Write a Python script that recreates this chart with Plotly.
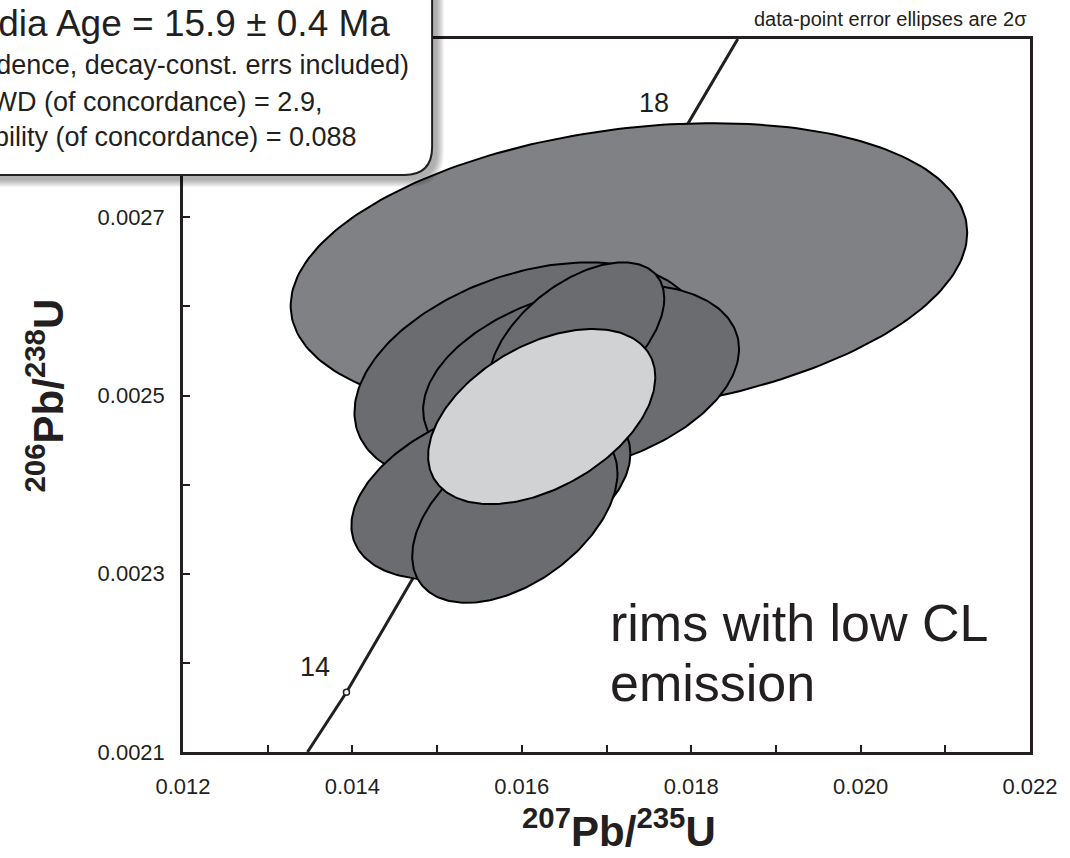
import numpy as np
import plotly.graph_objects as go

W, H = 1070, 858
ML, MR, MT, MB = 183, 37, 39, 106
PW, PH = W - ML - MR, H - MT - MB


def pxp(x):  # page pixel x -> paper
    return (x - ML) / PW


def pyp(y):  # page pixel y -> paper
    return (H - MB - y) / PH


# ---------------- data ----------------
# concordia curve (207Pb/235U vs 206Pb/238U)
concordia_x = [0.01347, 0.01393, 0.01588, 0.01793, 0.01855]
concordia_y = [0.00210, 0.002167, 0.002485, 0.002800, 0.00290]

# age markers on concordia (Ma)
age_labels = ["14", "18"]
age_x = [0.01393, 0.01793]
age_y = [0.002167, 0.002800]

# error ellipses (2 sigma): centre, half-widths, correlation
ell_x = [0.017265, 0.016071, 0.016700, 0.016647, 0.015635, 0.015918, 0.016235]
ell_y = [0.0026416, 0.0025247, 0.0025180, 0.0025629, 0.0023944, 0.0023663, 0.0024764]
ell_sx = [0.003994, 0.002047, 0.001865, 0.001035, 0.001647, 0.001212, 0.001341]
ell_sy = [0.0001640, 0.0001247, 0.0001067, 0.0000865, 0.0001011, 0.0000989, 0.0000983]
ell_rho = [0.25, 0.35, 0.32, 0.53, 0.40, 0.47, 0.45]
ell_fill = ["#808185", "#6b6c70", "#6b6c70", "#6b6c70", "#6b6c70", "#6b6c70", "#d1d2d4"]

x_major = [0.012, 0.014, 0.016, 0.018, 0.020, 0.022]
x_major_text = ["0.012", "0.014", "0.016", "0.018", "0.020", "0.022"]
x_minor = [0.013, 0.015, 0.017, 0.019, 0.021]
y_major = [0.0021, 0.0023, 0.0025, 0.0027]
y_major_text = ["0.0021", "0.0023", "0.0025", "0.0027"]
y_minor = [0.0022, 0.0024, 0.0026, 0.0028]

info_lines = [
    "Concordia Age = 15.9 ± 0.4 Ma",
    "(2σ, 95% confidence, decay-const. errs included)",
    "MSWD (of concordance) = 2.9,",
    "Probability (of concordance) = 0.088",
]

FONT = "Liberation Sans, Arial, Helvetica, sans-serif"
INK = "#231f20"

fig = go.Figure()

fig.add_trace(go.Scatter(x=concordia_x, y=concordia_y, mode="lines",
                         line=dict(color=INK, width=3), hoverinfo="skip",
                         showlegend=False))
fig.add_trace(go.Scatter(x=age_x, y=age_y, mode="markers",
                         marker=dict(symbol="circle", size=6, color="white",
                                     line=dict(color=INK, width=1.5)),
                         hoverinfo="skip", showlegend=False))

t = np.linspace(0, 2 * np.pi, 240)
for cx, cy, sx, sy, r, c in zip(ell_x, ell_y, ell_sx, ell_sy, ell_rho, ell_fill):
    xs = cx + sx * np.cos(t)
    ys = cy + sy * (r * np.cos(t) + np.sqrt(1 - r * r) * np.sin(t))
    fig.add_trace(go.Scatter(x=xs, y=ys, mode="lines", fill="toself",
                             fillcolor=c, line=dict(color="#000000", width=2),
                             hoverinfo="skip", showlegend=False))

axis_common = dict(showgrid=False, zeroline=False, showline=True,
                   linecolor=INK, linewidth=2.5, mirror=True,
                   ticks="inside", ticklen=7, tickwidth=2, tickcolor=INK,
                   tickfont=dict(family=FONT, size=22, color=INK))

fig.update_xaxes(range=[0.012, 0.022], tickmode="array", tickvals=x_major,
                 ticktext=x_major_text, ticklabelstandoff=13,
                 minor=dict(tickmode="array", tickvals=x_minor, ticks="inside",
                            ticklen=7, tickwidth=2, tickcolor=INK, showgrid=False),
                 **axis_common)
fig.update_yaxes(range=[0.0021, 0.0029], tickmode="array", tickvals=y_major,
                 ticktext=y_major_text, ticklabelstandoff=11,
                 minor=dict(tickmode="array", tickvals=y_minor, ticks="inside",
                            ticklen=7, tickwidth=2, tickcolor=INK, showgrid=False),
                 **axis_common)


def rrect(x0, y0, x1, y1, r):
    # rounded rectangle in page pixels -> path in paper coords
    rx, ry = r / PW, r / PH
    X0, X1 = pxp(x0), pxp(x1)
    Y0, Y1 = pyp(y0), pyp(y1)  # Y0 top (larger), Y1 bottom
    return (f"M {X0+rx},{Y0} L {X1-rx},{Y0} Q {X1},{Y0} {X1},{Y0-ry} "
            f"L {X1},{Y1+ry} Q {X1},{Y1} {X1-rx},{Y1} "
            f"L {X0+rx},{Y1} Q {X0},{Y1} {X0},{Y1+ry} "
            f"L {X0},{Y0-ry} Q {X0},{Y0} {X0+rx},{Y0} Z")


shapes = []
# soft shadow
for e in range(8):
    shapes.append(dict(type="path", xref="paper", yref="paper", layer="above",
                       path=rrect(-40 + 5 - e, -40 + 5 - e, 433 + 5 + e, 175 + 5 + e, 28 + e),
                       fillcolor="rgba(0,0,0,0.045)", line=dict(width=0)))
shapes.append(dict(type="path", xref="paper", yref="paper", layer="above",
                   path=rrect(-40, -40, 433, 175, 28),
                   fillcolor="white", line=dict(color=INK, width=2)))

annotations = []
info_right = [393, 412, 325, 360]
info_y = [23, 65, 102, 137]
info_size = [37, 27, 27, 27]
for txt, xr, yc, sz in zip(info_lines, info_right, info_y, info_size):
    annotations.append(dict(text=txt, xref="paper", yref="paper", x=pxp(xr), y=pyp(yc),
                            xanchor="right", yanchor="middle", showarrow=False,
                            font=dict(family=FONT, size=sz, color=INK)))

annotations.append(dict(text="data-point error ellipses are 2σ", xref="paper", yref="paper",
                        x=pxp(1032), y=pyp(19), xanchor="right", yanchor="middle",
                        showarrow=False, font=dict(family=FONT, size=20, color=INK)))

for lab, ax_, ay_ in zip(age_labels, age_x, age_y):
    annotations.append(dict(text=lab, x=ax_, y=ay_, xref="x", yref="y",
                            xshift=-31, yshift=25, showarrow=False,
                            font=dict(family=FONT, size=27, color=INK)))

annotations.append(dict(text="rims with low CL", xref="paper", yref="paper",
                        x=pxp(610), y=pyp(623), xanchor="left", yanchor="middle",
                        showarrow=False, font=dict(family=FONT, size=52, color=INK)))
annotations.append(dict(text="emission", xref="paper", yref="paper",
                        x=pxp(610), y=pyp(683), xanchor="left", yanchor="middle",
                        showarrow=False, font=dict(family=FONT, size=52, color=INK)))

annotations.append(dict(text="<b><sup>207</sup>Pb/<sup>235</sup>U</b>", xref="paper", yref="paper",
                        x=pxp(621), y=pyp(828), xanchor="center", yanchor="middle",
                        showarrow=False, font=dict(family=FONT, size=42, color=INK)))
annotations.append(dict(text="<b><sup>206</sup>Pb/<sup>238</sup>U</b>", xref="paper", yref="paper",
                        x=pxp(45), y=pyp(395), xanchor="center", yanchor="middle",
                        textangle=-90, showarrow=False,
                        font=dict(family=FONT, size=42, color=INK)))

fig.update_layout(width=W, height=H, autosize=False,
                  margin=dict(l=ML, r=MR, t=MT, b=MB, pad=0),
                  paper_bgcolor="white", plot_bgcolor="white",
                  shapes=shapes, annotations=annotations, showlegend=False)

fig.write_html("out.html", config={"displayModeBar": False},
               post_script="document.body.style.margin='0';")
